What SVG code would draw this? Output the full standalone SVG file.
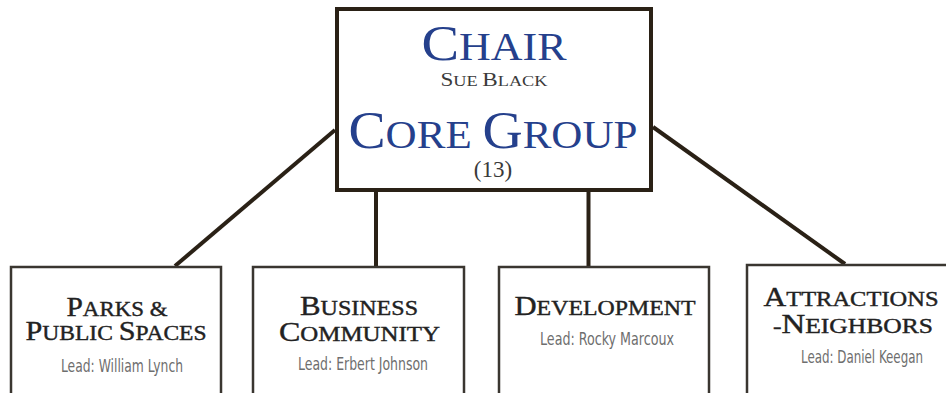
<svg xmlns="http://www.w3.org/2000/svg" width="946" height="393" viewBox="0 0 946 393">
<style>
.conn{stroke:#2a2116;stroke-width:4;fill:none;stroke-linecap:butt}
.main{fill:#fff;stroke:#2a2116;stroke-width:4}
.box{fill:#fff;stroke:#3a3630;stroke-width:2.5}
.blue{font-family:"Liberation Serif",serif;fill:#25408c;text-anchor:middle}
.sub{font-family:"Liberation Serif",serif;fill:#3a3a3a;text-anchor:middle}
.head{font-family:"Liberation Serif",serif;fill:#222;stroke:#222;stroke-width:0.4;text-anchor:middle}
.lead{font-family:"DejaVu Sans Condensed","Liberation Sans",sans-serif;fill:#6e6e6e;text-anchor:middle;font-size:18px}
.b{font-size:27px}.s{font-size:21px}
</style>
<rect width="946" height="393" fill="#fff"/>
<g id="connectors">
<line class="conn" x1="335" y1="130" x2="175" y2="266"/>
<line class="conn" x1="653" y1="127" x2="845" y2="264"/>
<line class="conn" x1="376" y1="190" x2="376" y2="267"/>
<line class="conn" x1="588.5" y1="190" x2="588.5" y2="267"/>
</g>
<g id="chair">
<rect class="main" x="337" y="9" width="314" height="181"/>
<text class="blue" x="494" y="60" textLength="145" lengthAdjust="spacingAndGlyphs"><tspan font-size="50">C</tspan><tspan font-size="39">HAIR</tspan></text>
<text class="sub" x="494" y="86" textLength="107" lengthAdjust="spacingAndGlyphs"><tspan font-size="19">S</tspan><tspan font-size="15">UE </tspan><tspan font-size="19">B</tspan><tspan font-size="15">LACK</tspan></text>
<text class="blue" x="493" y="148" textLength="289" lengthAdjust="spacingAndGlyphs"><tspan font-size="53">C</tspan><tspan font-size="41">ORE </tspan><tspan font-size="53">G</tspan><tspan font-size="41">ROUP</tspan></text>
<text class="sub" x="493" y="177" font-size="23" fill="#444">(13)</text>
</g>
<g id="parks">
<rect class="box" x="11" y="267" width="210" height="140"/>
<text class="head" x="117" y="316" textLength="101" lengthAdjust="spacingAndGlyphs"><tspan class="b">P</tspan><tspan class="s">ARKS &amp;</tspan></text>
<text class="head" x="116" y="340" textLength="181" lengthAdjust="spacingAndGlyphs"><tspan class="b">P</tspan><tspan class="s">UBLIC </tspan><tspan class="b">S</tspan><tspan class="s">PACES</tspan></text>
<text class="lead" x="122" y="372" textLength="122" lengthAdjust="spacingAndGlyphs">Lead: William Lynch</text>
</g>
<g id="business">
<rect class="box" x="253" y="267" width="211" height="140"/>
<text class="head" x="359" y="315" textLength="118" lengthAdjust="spacingAndGlyphs"><tspan class="b">B</tspan><tspan class="s">USINESS</tspan></text>
<text class="head" x="359.5" y="341" textLength="161" lengthAdjust="spacingAndGlyphs"><tspan class="b">C</tspan><tspan class="s">OMMUNITY</tspan></text>
<text class="lead" x="363" y="370" textLength="130" lengthAdjust="spacingAndGlyphs">Lead: Erbert Johnson</text>
</g>
<g id="development">
<rect class="box" x="499" y="267" width="210" height="140"/>
<text class="head" x="605" y="315" textLength="181" lengthAdjust="spacingAndGlyphs"><tspan class="b">D</tspan><tspan class="s">EVELOPMENT</tspan></text>
<text class="lead" x="607" y="345" textLength="134" lengthAdjust="spacingAndGlyphs">Lead: Rocky Marcoux</text>
</g>
<g id="attractions">
<rect class="box" x="747" y="265" width="210" height="140"/>
<text class="head" x="851" y="306" textLength="175" lengthAdjust="spacingAndGlyphs"><tspan class="b">A</tspan><tspan class="s">TTRACTIONS</tspan></text>
<text class="head" x="853" y="333" textLength="160" lengthAdjust="spacingAndGlyphs"><tspan class="s">-</tspan><tspan class="b">N</tspan><tspan class="s">EIGHBORS</tspan></text>
<text class="lead" x="862" y="363" textLength="122" lengthAdjust="spacingAndGlyphs">Lead: Daniel Keegan</text>
</g>
</svg>
